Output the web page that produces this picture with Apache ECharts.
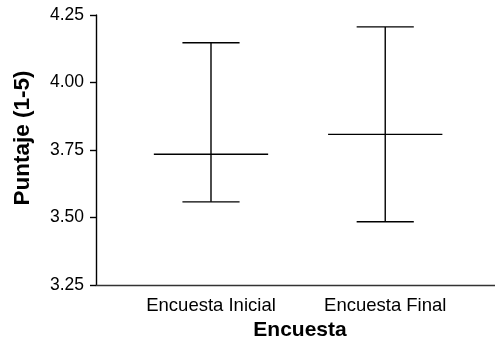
<!DOCTYPE html>
<html>
<head>
<meta charset="utf-8">
<script src="https://cdn.jsdelivr.net/npm/echarts@6/dist/echarts.min.js"></script>
<style>
  html, body { margin: 0; padding: 0; background: #fff; }
  #chart { width: 495px; height: 350px; }
</style>
</head>
<body>
<div id="chart"></div>
<script>
// Survey scores: mean with lower/upper interval bounds
const categories = ['Encuesta Inicial', 'Encuesta Final'];
const meanValues = [3.734, 3.808];
const lowerValues = [3.558, 3.484];
const upperValues = [4.147, 4.206];
const yTicks = [3.25, 3.50, 3.75, 4.00, 4.25];

const FONT = '"Liberation Sans", Arial, sans-serif';

const seriesData = categories.map((c, i) => [i, lowerValues[i], meanValues[i], upperValues[i]]);

function renderInterval(params, api) {
  const x = api.value(0);
  const lo = api.coord([x, api.value(1)]);
  const mid = api.coord([x, api.value(2)]);
  const hi = api.coord([x, api.value(3)]);
  const unit = api.size([1, 0])[0];
  const capHalf = unit * 0.164;
  const meanHalf = unit * 0.328;
  const style = { stroke: '#000', lineWidth: 1.4 };
  return {
    type: 'group',
    children: [
      { type: 'line', shape: { x1: hi[0], y1: hi[1], x2: lo[0], y2: lo[1] }, style },
      { type: 'line', shape: { x1: hi[0] - capHalf, y1: hi[1], x2: hi[0] + capHalf, y2: hi[1] }, style },
      { type: 'line', shape: { x1: lo[0] - capHalf, y1: lo[1], x2: lo[0] + capHalf, y2: lo[1] }, style },
      { type: 'line', shape: { x1: mid[0] - meanHalf, y1: mid[1], x2: mid[0] + meanHalf, y2: mid[1] }, style }
    ]
  };
}

const chart = echarts.init(document.getElementById('chart'), null, { renderer: 'canvas' });
chart.setOption({
  animation: false,
  backgroundColor: '#fff',
  grid: { left: 96, right: 0, top: 15, bottom: 65, containLabel: false },
  xAxis: {
    type: 'value',
    min: -0.66,
    max: 1.63,
    name: 'Encuesta',
    nameLocation: 'middle',
    nameGap: 35,
    nameTextStyle: { fontFamily: FONT, fontSize: 21, fontWeight: 'bold', color: '#000', padding: [0, 0, 0, 9] },
    axisLine: { show: true, onZero: false, lineStyle: { color: '#333', width: 1.4 } },
    axisTick: { show: false },
    splitLine: { show: false },
    axisLabel: {
      customValues: categories.map((c, i) => i),
      formatter: v => categories[Math.round(v)],
      fontFamily: FONT, fontSize: 18.5, color: '#000', margin: 11
    }
  },
  yAxis: {
    type: 'value',
    min: yTicks[0],
    max: yTicks[yTicks.length - 1],
    interval: 0.25,
    name: 'Puntaje (1-5)',
    nameLocation: 'middle',
    nameGap: 62,
    nameRotate: 90,
    nameTextStyle: { fontFamily: FONT, fontSize: 22.5, fontWeight: 'bold', color: '#000', padding: [0, 0, 0, 24] },
    axisLine: { show: true, onZero: false, lineStyle: { color: '#000', width: 1.4 } },
    axisTick: { show: true, inside: false, length: 6, lineStyle: { color: '#000', width: 1.4 } },
    splitLine: { show: false },
    axisLabel: {
      formatter: v => v.toFixed(2),
      fontFamily: FONT, fontSize: 17.5, color: '#000', margin: 12
    }
  },
  series: [{
    type: 'custom',
    renderItem: renderInterval,
    data: seriesData,
    encode: { x: 0, y: [1, 2, 3] },
    silent: true
  }]
});
</script>
</body>
</html>
